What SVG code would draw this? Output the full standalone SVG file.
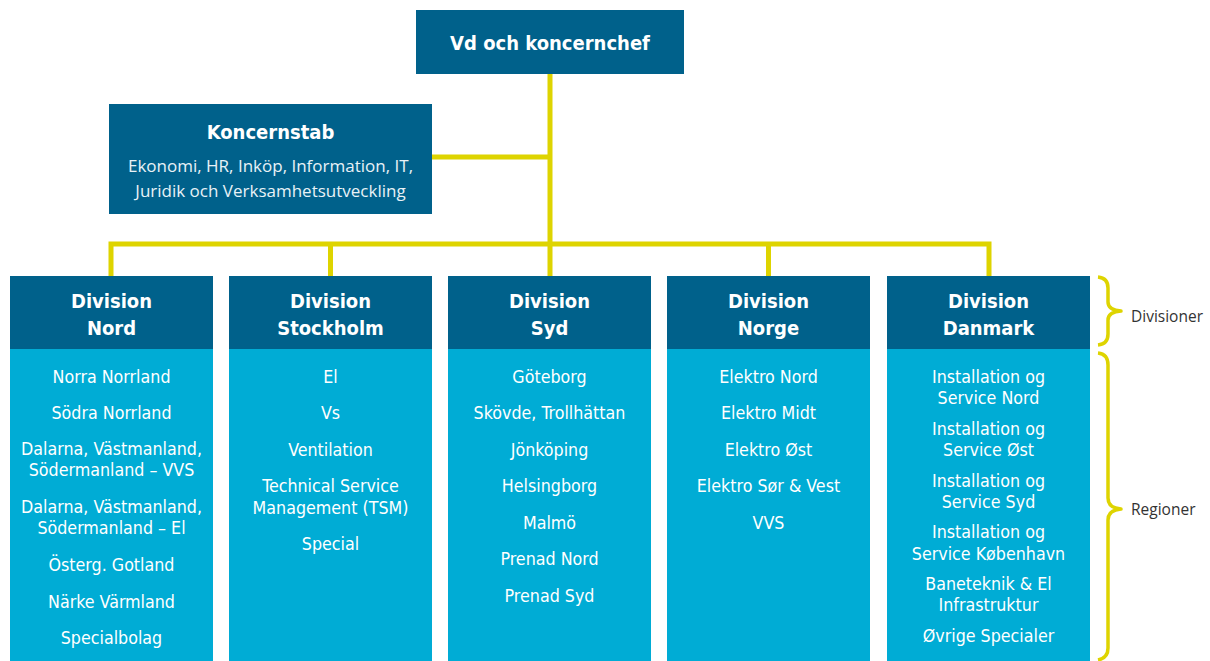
<svg xmlns="http://www.w3.org/2000/svg" width="1210" height="661" viewBox="0 0 1210 661">
  <style>
    .dark { fill: #00618b; }
    .light { fill: #00acd5; }
    .line { stroke: #ded400; stroke-width: 5; fill: none; }
    .brace { stroke: #ded400; stroke-width: 3.5; fill: none; stroke-linejoin: round; }
    .h { font-family: "Liberation Sans Narrow", "DejaVu Sans Condensed", "DejaVu Sans", sans-serif; font-weight: bold; font-size: 20px; fill: #ffffff; text-anchor: middle; }
    .t { font-family: "Liberation Sans Narrow", "DejaVu Sans Condensed", "DejaVu Sans", sans-serif; font-size: 17.7px; fill: #ffffff; text-anchor: middle; }
    .s { font-family: "Open Sans", "Noto Sans", sans-serif; font-size: 17px; fill: #e8f2f7; text-anchor: middle; }
    .lab { font-family: "Open Sans", "Noto Sans", sans-serif; font-size: 15.5px; fill: #333333; }
  </style>

  <!-- connectors -->
  <g id="connectors">
    <path class="line" d="M550,74 V276"/>
    <path class="line" d="M432,157 H550"/>
    <path class="line" d="M111,276 V244 H989 V276"/>
    <path class="line" d="M330.5,244 V276"/>
    <path class="line" d="M768.5,244 V276"/>
  </g>

  <g id="ceo">
    <rect class="dark" x="416" y="10" width="268" height="64"/>
    <text class="h" x="550" y="50">Vd och koncernchef</text>
  </g>

  <g id="koncernstab">
    <rect class="dark" x="109" y="104" width="323" height="110"/>
    <text class="h" x="270.5" y="139">Koncernstab</text>
    <text class="s" x="270.5" y="172">Ekonomi, HR, Inköp, Information, IT,</text>
    <text class="s" x="270.5" y="197">Juridik och Verksamhetsutveckling</text>
  </g>

  <g id="div-nord">
    <rect class="dark" x="10" y="276" width="203" height="73"/>
    <rect class="light" x="10" y="349" width="203" height="312"/>
    <text class="h" x="111.5" y="308">Division</text>
    <text class="h" x="111.5" y="335">Nord</text>
    <text class="t" x="111.5" y="383">Norra Norrland</text>
    <text class="t" x="111.5" y="419">Södra Norrland</text>
    <text class="t" x="111.5" y="455">Dalarna, Västmanland,</text>
    <text class="t" x="111.5" y="476">Södermanland – VVS</text>
    <text class="t" x="111.5" y="513">Dalarna, Västmanland,</text>
    <text class="t" x="111.5" y="534">Södermanland – El</text>
    <text class="t" x="111.5" y="571">Österg. Gotland</text>
    <text class="t" x="111.5" y="608">Närke Värmland</text>
    <text class="t" x="111.5" y="644">Specialbolag</text>
  </g>

  <g id="div-stockholm">
    <rect class="dark" x="229" y="276" width="203" height="73"/>
    <rect class="light" x="229" y="349" width="203" height="312"/>
    <text class="h" x="330.5" y="308">Division</text>
    <text class="h" x="330.5" y="335">Stockholm</text>
    <text class="t" x="330.5" y="383">El</text>
    <text class="t" x="330.5" y="419">Vs</text>
    <text class="t" x="330.5" y="456">Ventilation</text>
    <text class="t" x="330.5" y="492">Technical Service</text>
    <text class="t" x="330.5" y="514">Management (TSM)</text>
    <text class="t" x="330.5" y="550">Special</text>
  </g>

  <g id="div-syd">
    <rect class="dark" x="448" y="276" width="203" height="73"/>
    <rect class="light" x="448" y="349" width="203" height="312"/>
    <text class="h" x="549.5" y="308">Division</text>
    <text class="h" x="549.5" y="335">Syd</text>
    <text class="t" x="549.5" y="383">Göteborg</text>
    <text class="t" x="549.5" y="419">Skövde, Trollhättan</text>
    <text class="t" x="549.5" y="456">Jönköping</text>
    <text class="t" x="549.5" y="492">Helsingborg</text>
    <text class="t" x="549.5" y="529">Malmö</text>
    <text class="t" x="549.5" y="565">Prenad Nord</text>
    <text class="t" x="549.5" y="602">Prenad Syd</text>
  </g>

  <g id="div-norge">
    <rect class="dark" x="667" y="276" width="203" height="73"/>
    <rect class="light" x="667" y="349" width="203" height="312"/>
    <text class="h" x="768.5" y="308">Division</text>
    <text class="h" x="768.5" y="335">Norge</text>
    <text class="t" x="768.5" y="383">Elektro Nord</text>
    <text class="t" x="768.5" y="419">Elektro Midt</text>
    <text class="t" x="768.5" y="456">Elektro Øst</text>
    <text class="t" x="768.5" y="492">Elektro Sør &amp; Vest</text>
    <text class="t" x="768.5" y="529">VVS</text>
  </g>

  <g id="div-danmark">
    <rect class="dark" x="887" y="276" width="203" height="73"/>
    <rect class="light" x="887" y="349" width="203" height="312"/>
    <text class="h" x="988.5" y="308">Division</text>
    <text class="h" x="988.5" y="335">Danmark</text>
    <text class="t" x="988.5" y="383">Installation og</text>
    <text class="t" x="988.5" y="404">Service Nord</text>
    <text class="t" x="988.5" y="435">Installation og</text>
    <text class="t" x="988.5" y="456">Service Øst</text>
    <text class="t" x="988.5" y="487">Installation og</text>
    <text class="t" x="988.5" y="508">Service Syd</text>
    <text class="t" x="988.5" y="538">Installation og</text>
    <text class="t" x="988.5" y="560">Service København</text>
    <text class="t" x="988.5" y="590">Baneteknik &amp; El</text>
    <text class="t" x="988.5" y="611">Infrastruktur</text>
    <text class="t" x="988.5" y="642">Øvrige Specialer</text>
  </g>

  <g id="legend">
    <path class="brace" d="M1098,277 Q1108,278 1108,288 L1108,302 Q1108,310 1121,311 Q1108,312 1108,320 L1108,334 Q1108,344 1098,345"/>
    <text class="lab" x="1131" y="322">Divisioner</text>
    <path class="brace" d="M1098,353 Q1108,354 1108,365 L1108,498 Q1108,508 1121,509 Q1108,510 1108,520 L1108,648 Q1108,658 1098,660"/>
    <text class="lab" x="1131" y="515">Regioner</text>
  </g>
</svg>
